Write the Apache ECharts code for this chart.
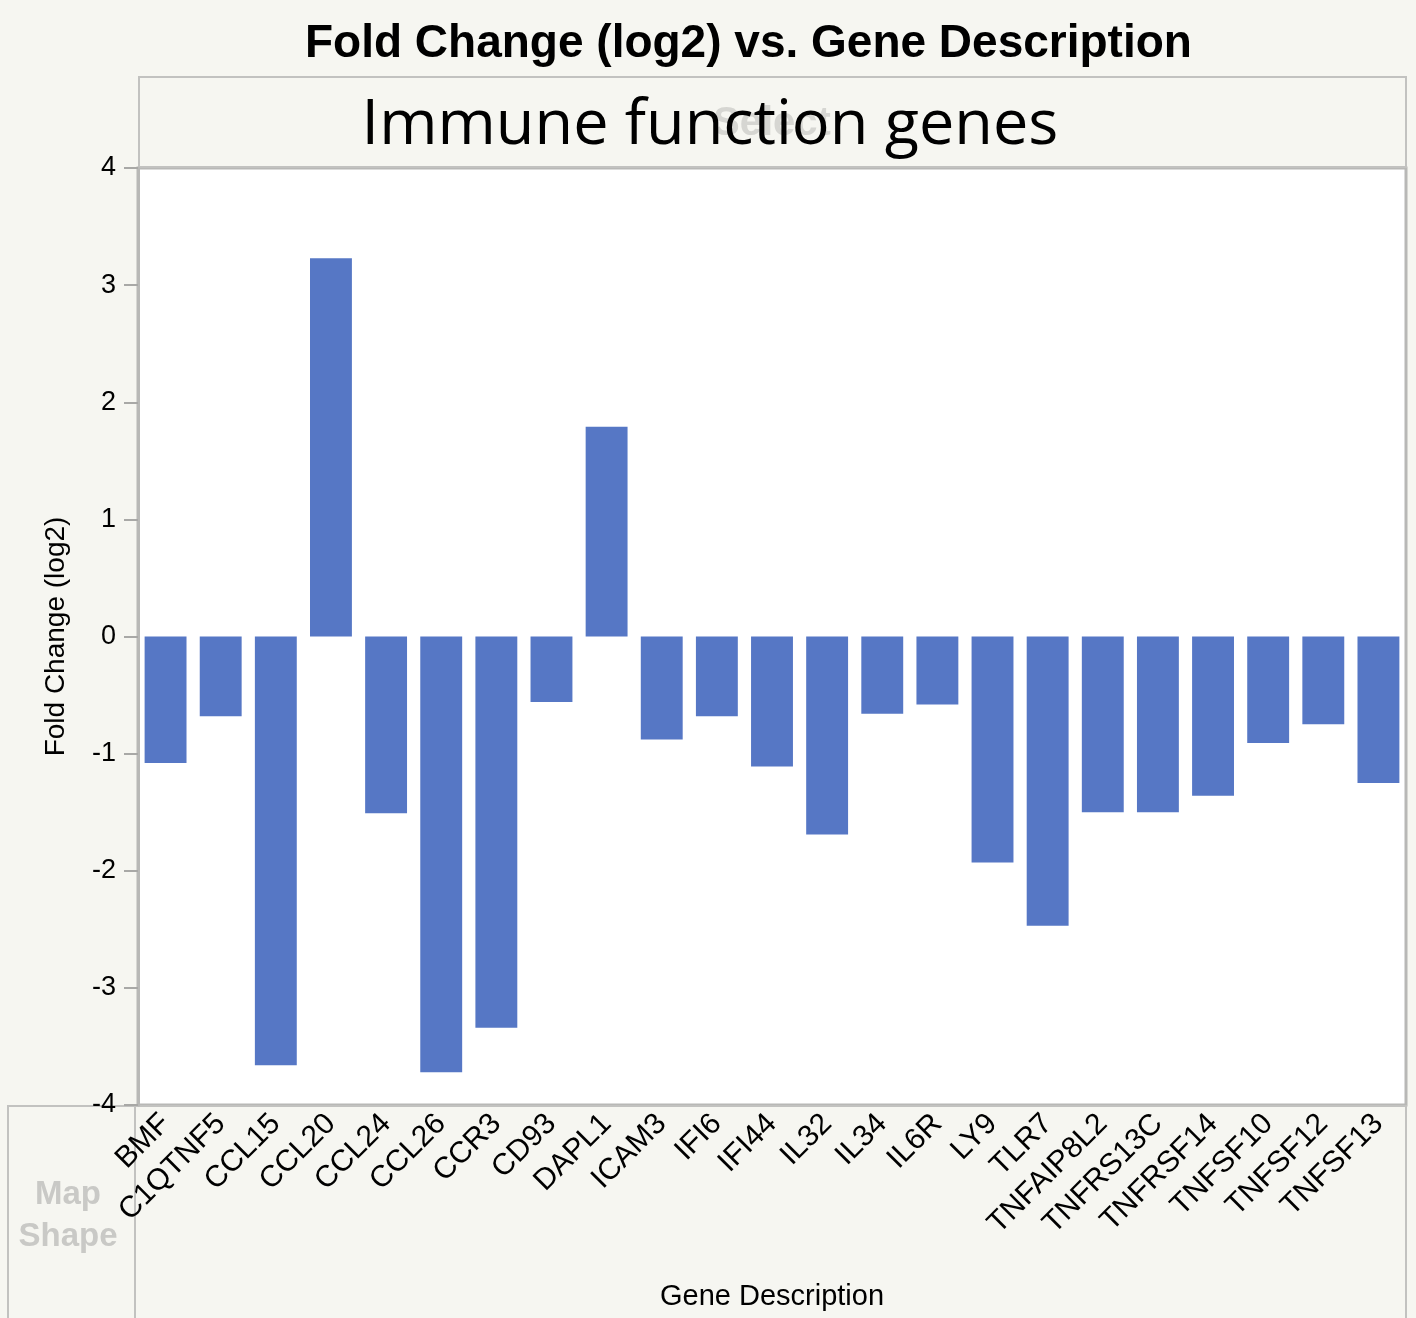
<!DOCTYPE html>
<html>
<head>
<meta charset="utf-8">
<script src="https://cdn.jsdelivr.net/npm/echarts@6/dist/echarts.min.js"></script>
<style>
  html, body { margin: 0; padding: 0; background: #f6f6f1; }
  #main { width: 1416px; height: 1318px; }
</style>
</head>
<body>
<div id="main"></div>
<script>
// gene names along the x axis
const genes = ['BMF', 'C1QTNF5', 'CCL15', 'CCL20', 'CCL24', 'CCL26', 'CCR3', 'CD93', 'DAPL1',
  'ICAM3', 'IFI6', 'IFI44', 'IL32', 'IL34', 'IL6R', 'LY9', 'TLR7', 'TNFAIP8L2', 'TNFRS13C',
  'TNFRSF14', 'TNFSF10', 'TNFSF12', 'TNFSF13']
// fold change (log2)
const foldChange = [-1.08, -0.68, -3.66, 3.23, -1.51, -3.72, -3.34, -0.56, 1.79,
  -0.88, -0.68, -1.11, -1.69, -0.66, -0.58, -1.93, -2.47, -1.50, -1.50,
  -1.36, -0.91, -0.75, -1.25]
const yTicks = [-4, -3, -2, -1, 0, 1, 2, 3, 4]

const myChart = echarts.init(document.getElementById('main'))
const option = {
  backgroundColor: '#f6f6f1',
  animation: false,
  title: {
    text: 'Fold Change (log2) vs. Gene Description',
    left: 300,
    top: 16,
    textStyle: {
      fontFamily: 'Liberation Sans',
      fontWeight: 'bold',
      fontSize: 46,
      color: '#000'
    }
  },
  graphic: [
    // header strip above the plot
    {
      type: 'rect',
      shape: { x: 139, y: 77, width: 1267, height: 90 },
      style: { fill: '#f6f6f1', stroke: '#c2c2c0', lineWidth: 2 },
      z: 0
    },
    {
      type: 'text',
      x: 772, y: 124,
      style: {
        text: 'Select',
        fontFamily: 'Liberation Sans',
        fontWeight: 'bold',
        fontSize: 40,
        fill: '#d6d6d2',
        align: 'center',
        verticalAlign: 'middle'
      },
      z: 1
    },
    {
      type: 'text',
      x: 710, y: 126,
      style: {
        text: 'Immune function genes',
        fontFamily: 'Open Sans',
        fontSize: 63,
        fill: '#000',
        align: 'center',
        verticalAlign: 'middle'
      },
      z: 2
    },
    // area below the plot (x labels + "Map Shape")
    {
      type: 'rect',
      shape: { x: 8, y: 1106, width: 1398, height: 220 },
      style: { fill: 'none', stroke: '#c2c2c0', lineWidth: 2 },
      z: 0
    },
    {
      type: 'line',
      shape: { x1: 135, y1: 1106, x2: 135, y2: 1318 },
      style: { stroke: '#c2c2c0', lineWidth: 2 },
      z: 0
    },
    {
      type: 'text',
      x: 68, y: 1216,
      style: {
        text: 'Map\nShape',
        fontFamily: 'Liberation Sans',
        fontWeight: 'bold',
        fontSize: 33,
        lineHeight: 42,
        fill: '#c9c9c6',
        align: 'center',
        verticalAlign: 'middle'
      }
    }
  ],
  grid: {
    left: 138,
    right: 10,
    top: 168,
    bottom: 213,
    show: true,
    backgroundColor: '#fff',
    borderColor: '#b8b8b6',
    borderWidth: 3
  },
  xAxis: {
    type: 'category',
    data: genes,
    name: 'Gene Description',
    nameLocation: 'middle',
    nameGap: 177,
    nameTextStyle: {
      fontFamily: 'Liberation Sans',
      fontSize: 29,
      color: '#000'
    },
    axisLine: { show: false },
    axisTick: { show: false },
    axisLabel: {
      interval: 0,
      rotate: 45,
      margin: 14,
      fontFamily: 'Liberation Sans',
      fontSize: 30,
      color: '#000'
    }
  },
  yAxis: {
    type: 'value',
    min: yTicks[0],
    max: yTicks[yTicks.length - 1],
    interval: 1,
    name: 'Fold Change (log2)',
    nameLocation: 'middle',
    nameGap: 68,
    nameTextStyle: {
      fontFamily: 'Liberation Sans',
      fontSize: 28,
      color: '#000'
    },
    splitLine: { show: false },
    axisLine: {
      show: true,
      lineStyle: { color: '#b8b8b6', width: 3 }
    },
    axisTick: {
      show: true,
      length: 14,
      lineStyle: { color: '#a8a8a6', width: 2 }
    },
    axisLabel: {
      margin: 22,
      fontFamily: 'Liberation Sans',
      fontSize: 27,
      color: '#000'
    }
  },
  series: [
    {
      name: 'Fold Change (log2)',
      type: 'bar',
      data: foldChange,
      barCategoryGap: '24%',
      itemStyle: { color: '#5677c5' }
    }
  ]
}
myChart.setOption(option)
</script>
</body>
</html>
